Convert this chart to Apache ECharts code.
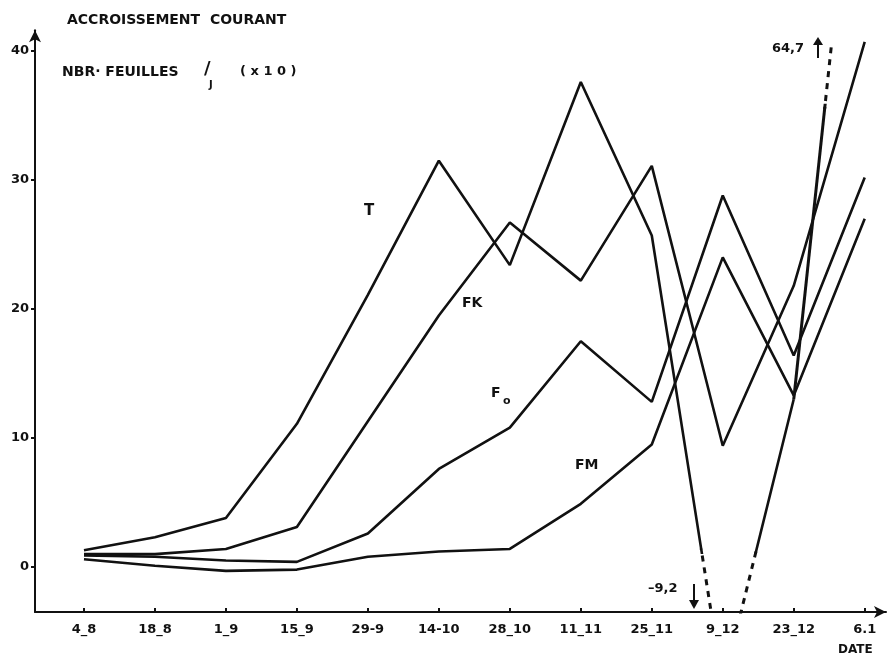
<!DOCTYPE html>
<html><head><meta charset="utf-8">
<script src="https://cdn.jsdelivr.net/npm/echarts@6/dist/echarts.min.js"></script>
<style>html,body{margin:0;padding:0;background:#fff}#c{width:888px;height:661px}</style>
</head><body><div id="c"></div>
<script>
// ---- data ----
const categories = ['4_8','18_8','1_9','15_9','29-9','14-10','28_10','11_11','25_11','9_12','23_12','6.1'];
const seriesT  = [1.3, 2.3, 3.8, 11.1, 21.1, 31.5, 23.4, 37.6, 25.7, -9.2, 13.0, 64.7];
const seriesFK = [1.0, 1.0, 1.4, 3.1, 11.3, 19.5, 26.7, 22.2, 31.1, 9.4, 21.8, 40.7];
const seriesFo = [0.9, 0.8, 0.5, 0.4, 2.6, 7.6, 10.8, 17.5, 12.8, 28.8, 16.4, 30.2];
const seriesFM = [0.6, 0.1, -0.3, -0.2, 0.8, 1.2, 1.4, 4.9, 9.5, 24.0, 13.3, 27.0];
const yTickValues = [0, 10, 20, 30, 40];
const annotLow = '\u20139,2';
const annotHigh = '64,7';

// ---- layout ----
const INK = '#111';
const H = 661;
const Y0 = 567, PPU = 12.9;           // pixel of value 0, pixels per unit
const pxY = v => Y0 - PPU * v;
const yMin = -3.49, yMax = 41.6;       // main axis extent
const dashMax = 40.3;                  // top of dashed continuation
const solidLo = 1.1, solidHi = 35.8;   // limits where T turns dashed
const xMin = -0.69, xMax = 11.3;
const LEFT = 35, RIGHT = 2;

const pairs = arr => arr.map((v, i) => [i, v]);
// keep only points with index in [a, b]
const part = (arr, a, b) => arr.map((v, i) => [i, (i >= a && i <= b) ? v : null]);
const idx = categories.map((_, i) => i);

function gridFor(lo, hi) {
  return { left: LEFT, right: RIGHT, top: pxY(hi), bottom: H - pxY(lo), containLabel: false };
}
function hiddenX(g) { return { gridIndex: g, type: 'value', min: xMin, max: xMax, show: false }; }
function hiddenY(g, lo, hi) { return { gridIndex: g, type: 'value', min: lo, max: hi, show: false, splitLine: { show: false } }; }

const lineCommon = { type: 'line', showSymbol: false, symbol: 'none', animation: false, clip: true, connectNulls: false, z: 3 };
const LW = 2.6;

const font = '"DejaVu Sans", Verdana, sans-serif';
const txt = (x, y, s, size, extra) => Object.assign({
  type: 'text', left: x, top: y, silent: true,
  style: { text: s, fill: INK, font: 'bold ' + size + 'px ' + font }
}, extra || {});

const chart = echarts.init(document.getElementById('c'), null, { renderer: 'canvas' });
chart.setOption({
  backgroundColor: '#fff',
  animation: false,
  grid: [
    gridFor(yMin, yMax),               // 0 main axes
    gridFor(yMin, solidLo + 0.2),      // 1 dashed, below frame
    gridFor(solidHi - 0.2, dashMax),   // 2 dashed, above frame
    gridFor(solidLo, yMax),            // 3 solid T
    gridFor(solidLo, solidHi)          // 4 solid T last segment
  ],
  xAxis: [
    {
      gridIndex: 0, type: 'value', min: xMin, max: xMax,
      axisLine: { show: true, onZero: false, lineStyle: { color: INK, width: 2 }, symbol: ['none', 'arrow'], symbolSize: [9, 12] },
      axisTick: { show: true, inside: true, length: 4, lineStyle: { color: INK, width: 2 }, customValues: idx },
      axisLabel: { show: true, customValues: idx, formatter: v => categories[Math.round(v)] || '',
        color: INK, fontFamily: font, fontWeight: 'bold', fontSize: 13, margin: 11 },
      splitLine: { show: false }
    },
    hiddenX(1), hiddenX(2), hiddenX(3), hiddenX(4)
  ],
  yAxis: [
    {
      gridIndex: 0, type: 'value', min: yMin, max: yMax,
      axisLine: { show: true, onZero: false, lineStyle: { color: INK, width: 2 }, symbol: ['none', 'arrow'], symbolSize: [9, 12] },
      axisTick: { show: true, inside: false, length: 4, lineStyle: { color: INK, width: 2 }, customValues: yTickValues },
      axisLabel: { show: true, customValues: yTickValues, color: INK, fontFamily: font, fontWeight: 'bold', fontSize: 13, margin: 6 },
      splitLine: { show: false }
    },
    hiddenY(1, yMin, solidLo + 0.2), hiddenY(2, solidHi - 0.2, dashMax),
    hiddenY(3, solidLo, yMax), hiddenY(4, solidLo, solidHi)
  ],
  series: [
    Object.assign({}, lineCommon, { name: 'FK', xAxisIndex: 0, yAxisIndex: 0, data: pairs(seriesFK), lineStyle: { color: INK, width: LW } }),
    Object.assign({}, lineCommon, { name: 'Fo', xAxisIndex: 0, yAxisIndex: 0, data: pairs(seriesFo), lineStyle: { color: INK, width: LW } }),
    Object.assign({}, lineCommon, { name: 'FM', xAxisIndex: 0, yAxisIndex: 0, data: pairs(seriesFM), lineStyle: { color: INK, width: LW } }),
    // dashed continuation of T where it leaves the frame
    Object.assign({}, lineCommon, { name: 'T dashed low', xAxisIndex: 1, yAxisIndex: 1, data: part(seriesT, 8, 10), lineStyle: { color: INK, width: 3, type: [6, 6] } }),
    Object.assign({}, lineCommon, { name: 'T dashed high', xAxisIndex: 2, yAxisIndex: 2, data: part(seriesT, 10, 11), lineStyle: { color: INK, width: 3, type: [6, 6] } }),
    // solid T
    Object.assign({}, lineCommon, { name: 'T', xAxisIndex: 3, yAxisIndex: 3, data: part(seriesT, 0, 10), lineStyle: { color: INK, width: LW }, z: 4 }),
    Object.assign({}, lineCommon, { name: 'T end', xAxisIndex: 4, yAxisIndex: 4, data: part(seriesT, 10, 11), lineStyle: { color: INK, width: 3 }, z: 4 })
  ],
  graphic: [
    txt(67, 13, 'ACCROISSEMENT  COURANT', 14),
    txt(62, 65, 'NBR\u00B7 FEUILLES', 14),
    txt(204, 60, '/', 18),
    txt(209, 80, 'J', 10),
    txt(240, 65, '( x 1 0 )', 13),
    txt(364, 204, 'T', 15),
    txt(462, 296, 'FK', 14),
    txt(491, 386, 'F', 14),
    txt(503, 396, 'o', 11),
    txt(575, 458, 'FM', 14),
    txt(648, 582, annotLow, 13),
    { type: 'line', silent: true, shape: { x1: 694, y1: 584, x2: 694, y2: 603 }, style: { stroke: INK, lineWidth: 2 } },
    { type: 'polygon', silent: true, shape: { points: [[689, 600], [699, 600], [694, 609]] }, style: { fill: INK } },
    txt(772, 42, annotHigh, 13),
    { type: 'line', silent: true, shape: { x1: 818, y1: 42, x2: 818, y2: 58 }, style: { stroke: INK, lineWidth: 2 } },
    { type: 'polygon', silent: true, shape: { points: [[813, 45], [823, 45], [818, 37]] }, style: { fill: INK } },
    txt(838, 644, 'DATE', 12)
  ]
});
</script>
</body></html>
